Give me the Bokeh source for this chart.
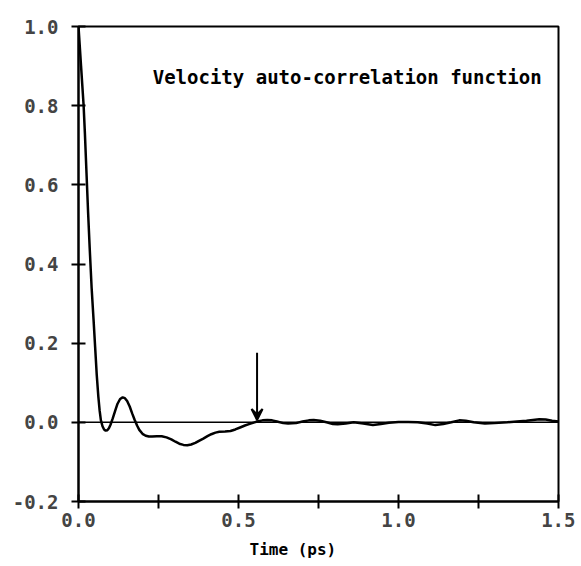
from bokeh.plotting import figure
from bokeh.models import FixedTicker, Range1d, Span, Arrow, VeeHead, Label, Title, CustomJSTickFormatter
from bokeh.embed import file_html
from bokeh.resources import INLINE

# Data
time_ps = [0.0, 0.004, 0.008, 0.012, 0.016, 0.02, 0.025, 0.03, 0.035, 0.041, 0.047, 0.052,
           0.057, 0.062, 0.066, 0.07, 0.075, 0.08, 0.085, 0.09, 0.095, 0.1, 0.107, 0.115,
           0.122, 0.13, 0.138, 0.145, 0.152, 0.16, 0.168, 0.175, 0.183, 0.19, 0.2, 0.21,
           0.22, 0.23, 0.245, 0.26, 0.275, 0.29, 0.303, 0.315, 0.328, 0.34, 0.352, 0.365,
           0.378, 0.39, 0.403, 0.415, 0.428, 0.44, 0.458, 0.475, 0.49, 0.505, 0.52, 0.535,
           0.55, 0.558, 0.575, 0.59, 0.605, 0.62, 0.64, 0.655, 0.68, 0.7, 0.72, 0.735,
           0.755, 0.775, 0.795, 0.81, 0.835, 0.86, 0.89, 0.92, 0.945, 0.97, 1.0, 1.03,
           1.06, 1.09, 1.115, 1.14, 1.165, 1.19, 1.21, 1.235, 1.27, 1.3, 1.34, 1.37,
           1.4, 1.42, 1.44, 1.46, 1.48, 1.5]
vacf = [1.0, 0.95, 0.9, 0.85, 0.8, 0.73, 0.63, 0.53, 0.44, 0.34, 0.26, 0.19,
        0.12, 0.065, 0.03, 0.005, -0.01, -0.018, -0.021, -0.02, -0.015, -0.006, 0.01, 0.03,
        0.047, 0.059, 0.063, 0.061, 0.054, 0.04, 0.022, 0.007, -0.008, -0.019, -0.029, -0.034,
        -0.036, -0.036, -0.035, -0.035, -0.038, -0.043, -0.049, -0.054, -0.057, -0.058, -0.056, -0.052,
        -0.046, -0.041, -0.035, -0.03, -0.026, -0.024, -0.023, -0.022, -0.018, -0.013, -0.008, -0.004,
        0.0, 0.002, 0.005, 0.006, 0.005, 0.002, -0.002, -0.003, -0.002, 0.002, 0.005, 0.006,
        0.004, 0.0, -0.004, -0.005, -0.003, 0.0, -0.003, -0.007, -0.004, -0.001, 0.001, 0.001,
        0.0, -0.003, -0.007, -0.004, 0.0, 0.005, 0.004, 0.0, -0.003, -0.002, 0.0, 0.002,
        0.004, 0.006, 0.008, 0.007, 0.004, 0.002]

x_major_ticks = [0.0, 0.5, 1.0, 1.5]
x_minor_ticks = [0.25, 0.75, 1.25]
y_ticks = [-0.2, 0.0, 0.2, 0.4, 0.6, 0.8, 1.0]
x_label = "Time (ps)"
title_text = "Velocity auto-correlation function"
title_pos = (0.232, 0.872)
arrow_t = 0.558
arrow_top = 0.176
arrow_tip = 0.006

FONT = "DejaVu Sans Mono"

p = figure(width=575, height=566, output_backend="svg", toolbar_location=None,
           x_range=Range1d(0.0, 1.5), y_range=Range1d(-0.2, 1.0),
           min_border_left=78, min_border_right=17, min_border_top=26, min_border_bottom=64)
p.grid.visible = False
p.outline_line_color = "black"
p.outline_line_width = 2
p.background_fill_color = "white"
p.border_fill_color = "white"

# x axis
xa = p.xaxis[0]
xa.ticker = FixedTicker(ticks=x_major_ticks, minor_ticks=x_minor_ticks)
xa.major_label_text_font = FONT
xa.major_label_text_font_style = "bold"
xa.major_label_text_font_size = "19px"
xa.major_label_standoff = 4
xa.axis_line_width = 2
xa.major_tick_line_width = 2
xa.minor_tick_line_width = 2
xa.major_tick_in = 7
xa.major_tick_out = 7
xa.minor_tick_in = 7
xa.minor_tick_out = 7
xa.formatter = CustomJSTickFormatter(code="return tick.toFixed(1);")

# y axis
ya = p.yaxis[0]
ya.ticker = FixedTicker(ticks=y_ticks, minor_ticks=[])
ya.major_label_text_font = FONT
ya.major_label_text_font_style = "bold"
ya.major_label_text_font_size = "19px"
ya.major_label_standoff = 13
ya.axis_line_width = 2
ya.major_tick_line_width = 2
ya.major_tick_in = 7
ya.major_tick_out = 7
ya.minor_tick_line_color = None
ya.formatter = CustomJSTickFormatter(code="return tick.toFixed(1);")

# zero line
p.add_layout(Span(location=0.0, dimension="width", line_color="black", line_width=1.5))

# curve
p.line(time_ps, vacf, line_color="black", line_width=2.5)

# arrow
p.add_layout(Arrow(end=VeeHead(size=11, line_width=2, line_color="black"),
                   x_start=arrow_t, y_start=arrow_top, x_end=arrow_t, y_end=arrow_tip,
                   line_width=2, line_color="black"))

# in-plot title
p.add_layout(Label(x=title_pos[0], y=title_pos[1], text=title_text, text_font=FONT,
                   text_font_size="19px", text_font_style="bold", text_baseline="middle",
                   text_align="left", text_color="black"))

# x axis title, placed below the axis, slightly left of the frame centre as in the reference
p.add_layout(Title(text=x_label, align="left", offset=171, standoff=16,
                   text_font=FONT, text_font_size="16px", text_font_style="bold",
                   text_color="black"), "below")

open("out.html", "w").write(file_html(p, INLINE))
